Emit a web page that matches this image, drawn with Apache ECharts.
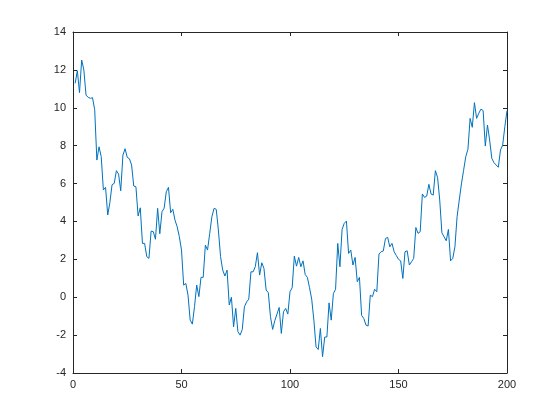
<!DOCTYPE html>
<html>
<head>
<meta charset="utf-8">
<script src="https://cdn.jsdelivr.net/npm/echarts@6/dist/echarts.min.js"></script>
<style>html,body{margin:0;padding:0;background:#fff}#c{width:560px;height:420px}</style>
</head>
<body>
<div id="c"></div>
<script>
const yValues = [
11.29,11.96,10.8,12.52,12.0,10.67,10.55,10.5,10.53,9.9,
7.24,7.94,7.42,5.66,5.8,4.34,5.0,5.94,6.01,6.68,
6.5,5.62,7.5,7.84,7.38,7.31,6.98,5.87,5.83,4.29,
4.72,2.84,2.84,2.14,2.05,3.49,3.46,3.06,4.69,3.35,
4.51,4.7,5.57,5.8,4.46,4.64,4.07,3.72,3.19,2.49,
0.64,0.73,0.11,-1.21,-1.42,-0.5,0.64,0.03,1.05,1.05,
2.75,2.49,3.37,4.25,4.69,4.64,3.55,2.14,1.43,1.12,
1.43,-0.41,0,-1.56,-0.59,-1.82,-2.0,-1.7,-0.5,-0.25,
-0.1,1.34,1.34,1.61,2.35,1.17,1.82,1.52,0.38,0.24,
-1.03,-1.7,-1.24,-0.89,-0.54,-1.91,-0.77,-0.59,-0.89,0.29,
0.5,2.17,1.64,2.1,1.61,1.92,1.2,1.05,0.5,-0.1,
-1.21,-2.62,-2.76,-1.65,-3.14,-2.1,-2.1,-0.3,-1.21,0.2,
0.42,2.84,1.61,3.58,3.9,4.02,2.31,2.49,1.7,2.1,
0.82,1.05,-0.96,-1.12,-1.47,-1.52,0.11,0.03,0.42,0.29,
2.28,2.4,2.44,3.1,3.16,2.66,2.84,2.4,2.2,2.0,
1.92,0.99,2.4,2.45,1.7,1.87,2.05,3.68,3.37,3.46,
5.45,5.27,5.34,5.96,5.45,5.39,6.68,6.33,5.13,3.4,
3.19,2.98,3.58,1.92,2.05,2.66,4.25,5.13,5.98,6.7,
7.42,7.81,9.44,8.97,10.27,9.44,9.71,9.93,9.85,7.98,
9.09,8.3,7.33,7.1,6.98,6.86,7.77,8.03,9.0,9.85
];
const xRange = [0, 200];
const yRange = [-4, 14];
const xStep = 50;
const yStep = 2;

const seriesData = yValues.map((v, i) => [i + 1, v]);
const axisColor = '#262626';
const labelStyle = {color: axisColor, fontSize: 11, fontFamily: 'Liberation Sans, Arial, sans-serif'};
function mkX(pos, show) {
  return {type:'value', position:pos, min:xRange[0], max:xRange[1], interval:xStep,
    axisLine:{show:true, onZero:false, lineStyle:{color:axisColor, width:1}},
    axisTick:{show:true, inside:true, length:4, lineStyle:{color:axisColor}},
    axisLabel:Object.assign({show:show, margin:6}, labelStyle),
    splitLine:{show:false}};
}
function mkY(pos, show) {
  return {type:'value', position:pos, min:yRange[0], max:yRange[1], interval:yStep,
    axisLine:{show:true, onZero:false, lineStyle:{color:axisColor, width:1}},
    axisTick:{show:true, inside:true, length:4, lineStyle:{color:axisColor}},
    axisLabel:Object.assign({show:show, margin:7}, labelStyle),
    splitLine:{show:false}};
}
const chart = echarts.init(document.getElementById('c'), null, {renderer:'canvas'});
chart.setOption({
  animation:false,
  backgroundColor:'#ffffff',
  grid:{left:73, top:32, width:434, height:341, containLabel:false},
  xAxis:[mkX('bottom', true), mkX('top', false)],
  yAxis:[mkY('left', true), mkY('right', false)],
  series:[{type:'line', data:seriesData, showSymbol:false, symbol:'none',
    lineStyle:{color:'#0072BD', width:1}, xAxisIndex:0, yAxisIndex:0}]
});
</script>
</body>
</html>
